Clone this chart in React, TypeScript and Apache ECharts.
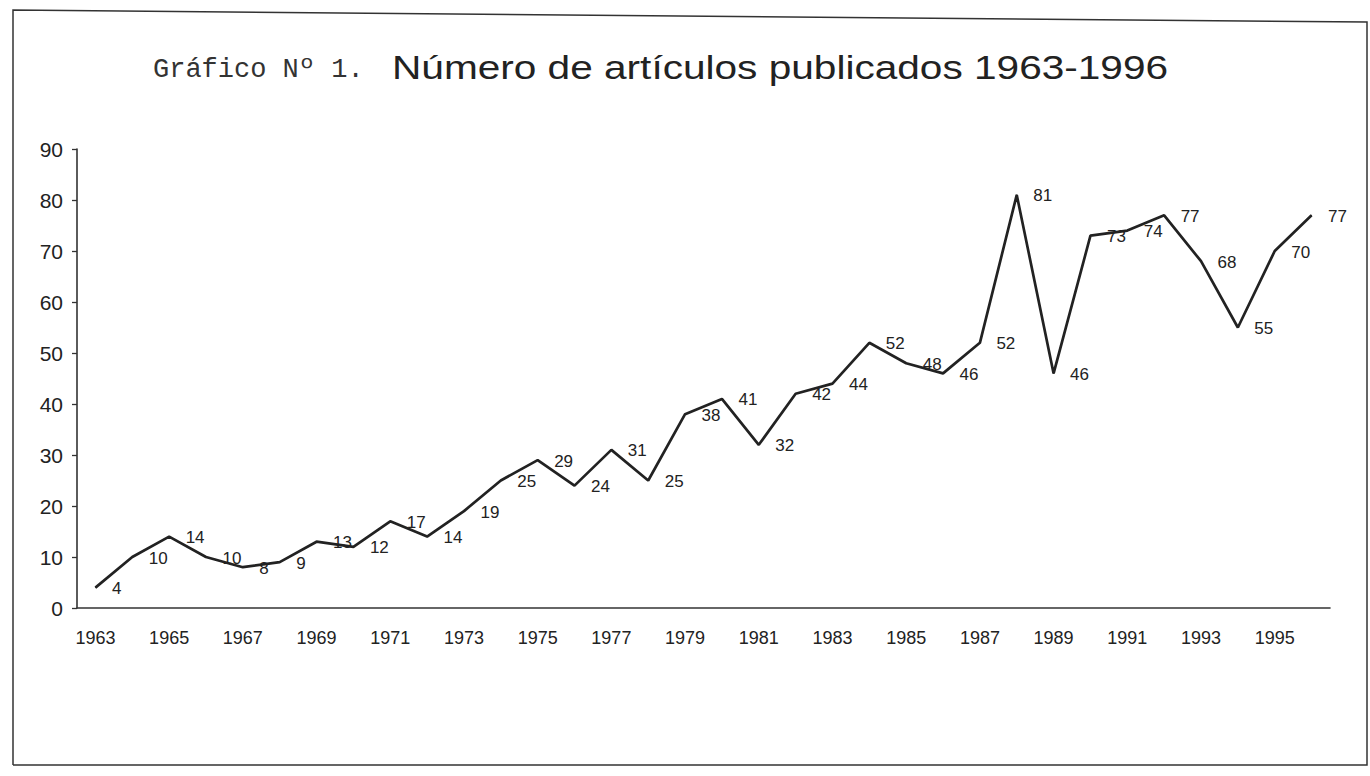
import React, { useEffect, useRef } from "react";
import * as echarts from "echarts";

const years = [
  "1963","1964","1965","1966","1967","1968","1969","1970","1971","1972",
  "1973","1974","1975","1976","1977","1978","1979","1980","1981","1982",
  "1983","1984","1985","1986","1987","1988","1989","1990","1991","1992",
  "1993","1994","1995","1996",
];
const articles = [
  4, 10, 14, 10, 8, 9, 13, 12, 17, 14,
  19, 25, 29, 24, 31, 25, 38, 41, 32, 42,
  44, 52, 48, 46, 52, 81, 46, 73, 74, 77,
  68, 55, 70, 77,
];
const titlePrefix = "Gráfico Nº 1.";
const titleMain = "Número de artículos publicados 1963-1996";

export default function App() {
  const ref = useRef<HTMLDivElement>(null);
  useEffect(() => {
    if (!ref.current) return;
    const chart = echarts.init(ref.current, null, { renderer: "svg" });
    chart.setOption({
      animation: false,
      backgroundColor: "#ffffff",
      grid: { left: 77, right: 40, top: 149, bottom: 168, containLabel: false },
      xAxis: {
        type: "category",
        data: years,
        boundaryGap: true,
        axisLine: { lineStyle: { color: "#333", width: 1.6 } },
        axisTick: { show: false },
        axisLabel: {
          interval: 1,
          margin: 21,
          fontFamily: "Liberation Sans",
          fontSize: 18,
          color: "#222",
        },
      },
      yAxis: {
        type: "value",
        min: 0,
        max: 90,
        interval: 10,
        splitLine: { show: false },
        axisLine: { show: true, lineStyle: { color: "#333", width: 1.6 } },
        axisTick: { show: true, length: 5, lineStyle: { color: "#333", width: 1.3 } },
        axisLabel: {
          margin: 14,
          fontFamily: "Liberation Sans",
          fontSize: 21,
          color: "#222",
        },
      },
      series: [
        {
          type: "line",
          data: articles,
          showSymbol: true,
          symbol: "circle",
          symbolSize: 1,
          itemStyle: { color: "#222" },
          lineStyle: { color: "#222", width: 2.7 },
          label: {
            show: true,
            position: "right",
            distance: 16,
            offset: [0, 1],
            fontFamily: "Liberation Sans",
            fontSize: 17,
            color: "#222",
          },
        },
      ],
      graphic: [
        {
          type: "polyline",
          shape: { points: [[13, 765], [13, 10], [1367, 22], [1367, 765], [13, 765]] },
          style: { stroke: "#333", lineWidth: 1.5, fill: "none" },
          silent: true,
        },
        {
          type: "text",
          x: 153,
          y: 70,
          style: {
            text: titlePrefix,
            fontFamily: "Liberation Mono",
            fontSize: 27,
            fill: "#333",
            align: "left",
            verticalAlign: "middle",
          },
          silent: true,
        },
        {
          type: "text",
          x: 392,
          y: 68,
          scaleX: 1.23,
          style: {
            text: titleMain,
            fontFamily: "Liberation Sans",
            fontSize: 33,
            fill: "#222",
            align: "left",
            verticalAlign: "middle",
          },
          silent: true,
        },
      ],
    });
    return () => chart.dispose();
  }, []);
  return (
    <div
      ref={ref}
      style={{ position: "fixed", left: 0, top: 0, width: 1370, height: 776 }}
    />
  );
}
